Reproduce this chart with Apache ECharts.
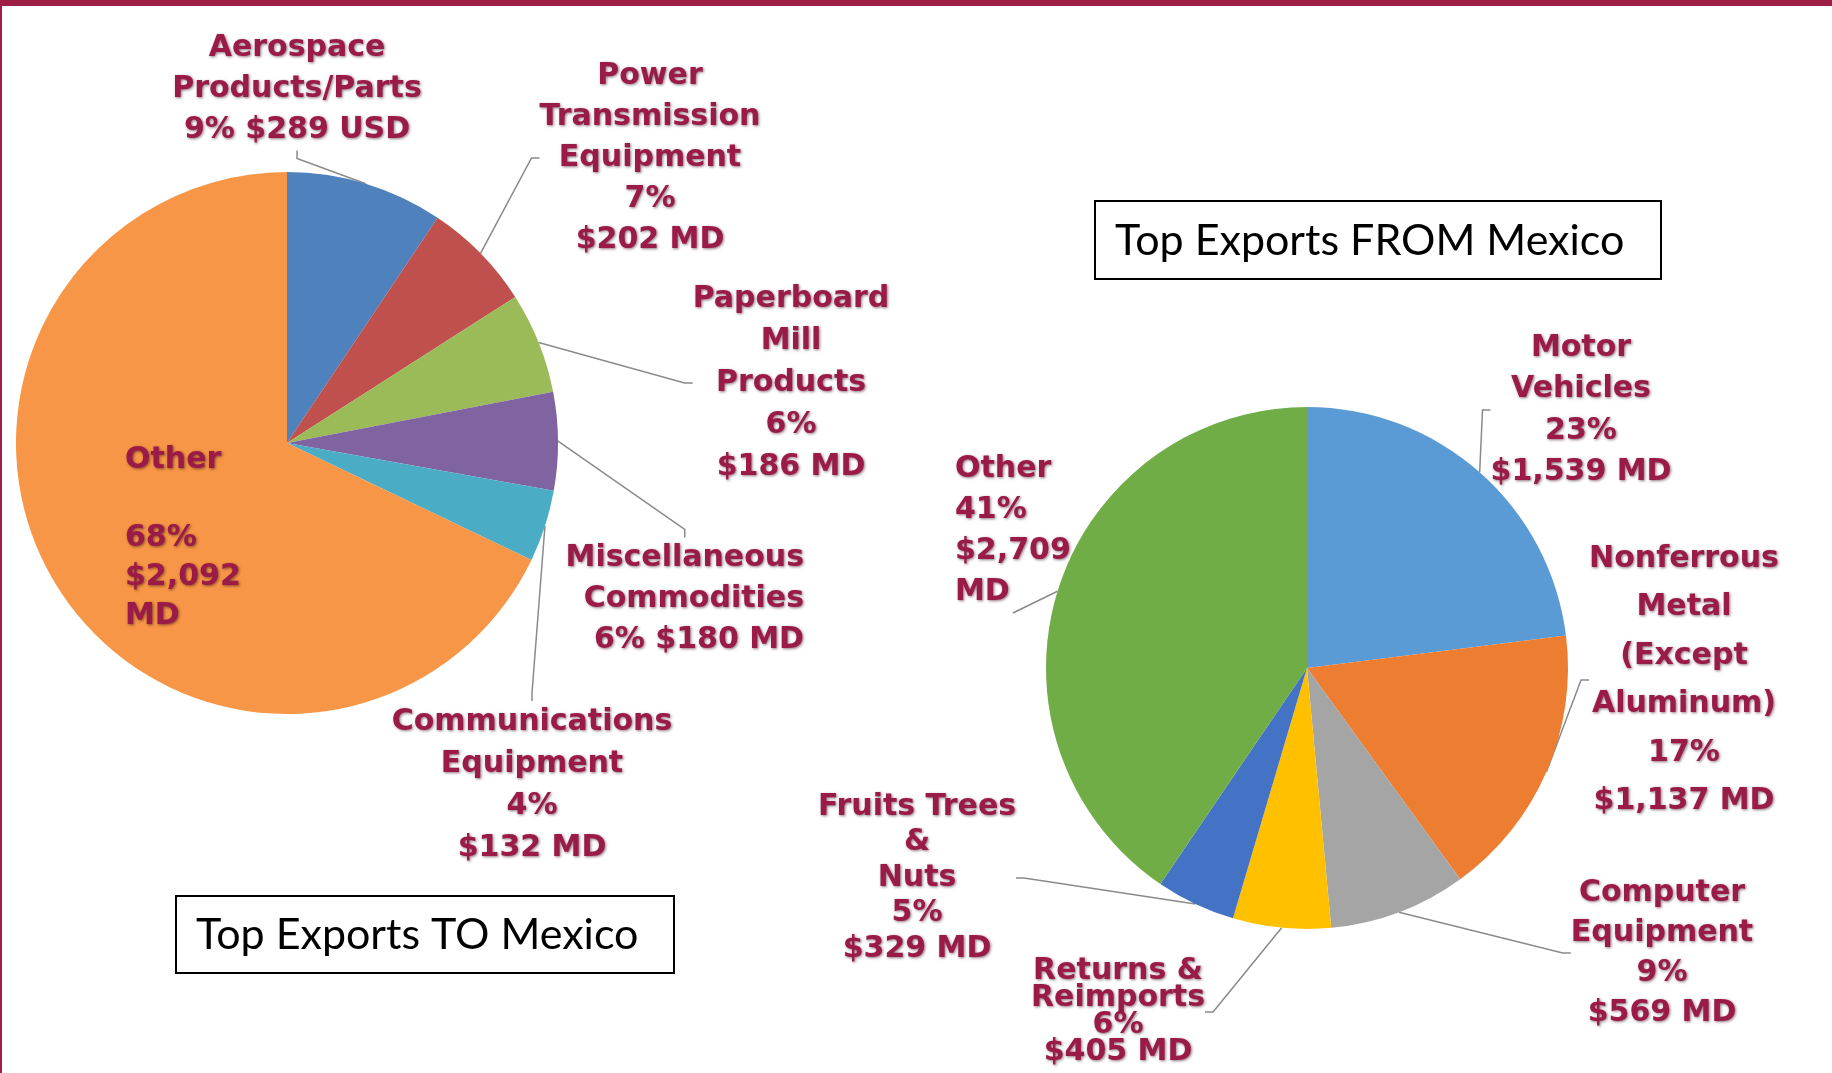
<!DOCTYPE html>
<html><head><meta charset="utf-8">
<script src="https://cdn.jsdelivr.net/npm/echarts@6/dist/echarts.min.js"></script>
<style>html,body{margin:0;padding:0;background:#fff}#c{width:1832px;height:1073px}</style>
</head><body><div id="c"></div>
<script>
// ---- data: Top Exports TO Mexico ----
const toCategories = ['Aerospace Products/Parts', 'Power Transmission Equipment', 'Paperboard Mill Products', 'Miscellaneous Commodities', 'Communications Equipment', 'Other'];
const toValues = [289, 202, 186, 180, 132, 2092];
const toLabels = [
  'Aerospace\nProducts/Parts\n9% $289 USD',
  'Power\nTransmission\nEquipment\n7%\n$202 MD',
  'Paperboard\nMill\nProducts\n6%\n$186 MD',
  'Miscellaneous\nCommodities\n6% $180 MD',
  'Communications\nEquipment\n4%\n$132 MD',
  'Other\n\n68%\n$2,092\nMD'
];
// ---- data: Top Exports FROM Mexico ----
const fromCategories = ['Motor Vehicles', 'Nonferrous Metal (Except Aluminum)', 'Computer Equipment', 'Returns & Reimports', 'Fruits Trees & Nuts', 'Other'];
const fromValues = [1539, 1137, 569, 405, 329, 2709];
const fromLabels = [
  'Motor\nVehicles\n23%\n$1,539 MD',
  'Nonferrous\nMetal\n(Except\nAluminum)\n17%\n$1,137 MD',
  'Computer\nEquipment\n9%\n$569 MD',
  'Returns &\nReimports\n6%\n$405 MD',
  'Fruits Trees\n&\nNuts\n5%\n$329 MD',
  'Other\n41%\n$2,709\nMD'
];
const titles = ['Top Exports TO Mexico', 'Top Exports FROM Mexico'];

// ---- styles / layout ----
const toColors = ['#4F81BD', '#C0504D', '#9BBB59', '#8064A2', '#4BACC6', '#F79646'];
const fromColors = ['#5B9BD5', '#ED7D31', '#A5A5A5', '#FFC000', '#4472C4', '#70AD47'];
const toLayout = [
  {x: 297, y: 89, align: 'center', lh: 41},
  {x: 650, y: 158, align: 'center', lh: 41},
  {x: 791, y: 383, align: 'center', lh: 42},
  {x: 804, y: 599, align: 'right', lh: 41},
  {x: 532, y: 785, align: 'center', lh: 42},
  {x: 125, y: 538, align: 'left', lh: 39, noLine: true}
];
const fromLayout = [
  {x: 1581, y: 410, align: 'center', lh: 41.5},
  {x: 1684, y: 680, align: 'center', lh: 48.5},
  {x: 1662, y: 953, align: 'center', lh: 40},
  {x: 1118, y: 1012, align: 'center', lh: 27},
  {x: 917, y: 878, align: 'center', lh: 35.5},
  {x: 955, y: 531, align: 'left', lh: 41}
];

const labelBase = {
  show: true,
  position: 'outside',
  color: '#9a1a48',
  fontFamily: '"DejaVu Sans", sans-serif',
  fontWeight: 'bold',
  fontSize: 30,
  textShadowColor: 'rgba(50,0,20,0.55)',
  textShadowBlur: 3,
  textShadowOffsetX: 1,
  textShadowOffsetY: 1,
  formatter: '{b}'
};

function buildData(cats, vals, labels, colors, layout) {
  return cats.map((c, i) => ({
    name: labels[i],
    value: vals[i],
    itemStyle: {color: colors[i]},
    label: {lineHeight: layout[i].lh, align: layout[i].align},
    labelLine: {show: !layout[i].noLine}
  }));
}

function makeLayout(layout) {
  return function (params) {
    const L = layout[params.dataIndex];
    return {x: L.x, y: L.y, align: L.align, verticalAlign: 'middle', hideOverlap: false};
  };
}

const chart = echarts.init(document.getElementById('c'), null, {renderer: 'canvas'});
chart.setOption({
  backgroundColor: '#ffffff',
  animation: false,
  graphic: [
    {type: 'rect', shape: {x: 0, y: 0, width: 1832, height: 6}, style: {fill: '#9E1F46'}},
    {type: 'rect', shape: {x: 0, y: 0, width: 2, height: 1073}, style: {fill: '#9E1F46'}},
    {type: 'rect', shape: {x: 176, y: 896, width: 498, height: 77}, style: {fill: '#fff', stroke: '#000', lineWidth: 2}},
    {type: 'text', x: 196, y: 935, style: {text: titles[0], font: '43px Lato, sans-serif', fill: '#000', verticalAlign: 'middle', align: 'left'}},
    {type: 'rect', shape: {x: 1095, y: 201, width: 566, height: 78}, style: {fill: '#fff', stroke: '#000', lineWidth: 2}},
    {type: 'text', x: 1115, y: 241, style: {text: titles[1], font: '43px Lato, sans-serif', fill: '#000', verticalAlign: 'middle', align: 'left'}}
  ],
  series: [
    {
      type: 'pie',
      center: [287, 443],
      radius: 271,
      startAngle: 90,
      clockwise: true,
      avoidLabelOverlap: false,
      emphasis: {disabled: true},
      label: labelBase,
      labelLine: {show: true, length: 10, length2: 8, lineStyle: {color: '#8a8a8a', width: 1.5}},
      labelLayout: makeLayout(toLayout),
      data: buildData(toCategories, toValues, toLabels, toColors, toLayout)
    },
    {
      type: 'pie',
      center: [1307, 668],
      radius: 261,
      startAngle: 90,
      clockwise: true,
      avoidLabelOverlap: false,
      emphasis: {disabled: true},
      label: labelBase,
      labelLine: {show: true, length: 10, length2: 8, lineStyle: {color: '#8a8a8a', width: 1.5}},
      labelLayout: makeLayout(fromLayout),
      data: buildData(fromCategories, fromValues, fromLabels, fromColors, fromLayout)
    }
  ]
});
</script></body></html>
